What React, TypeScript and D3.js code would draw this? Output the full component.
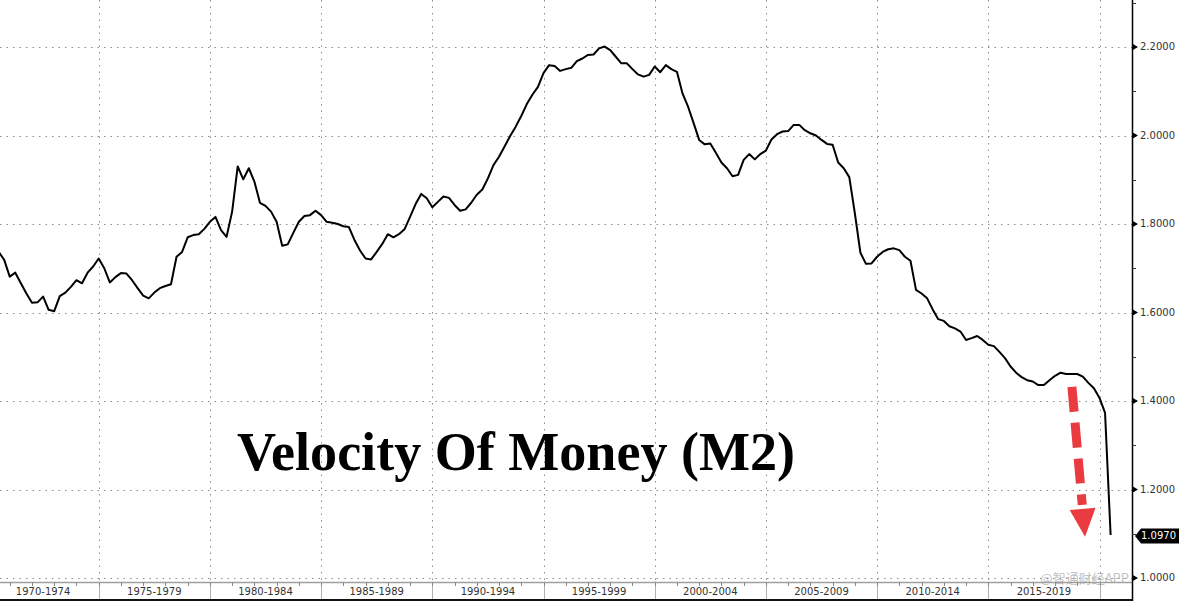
import React, { useEffect, useRef } from "react";
import * as d3 from "d3";

// Quarterly M2 velocity, first point = end of Q2 1970, step = one quarter
const startYear = 1970.5;
const quarterStep = 0.25;
const velocity = [
  1.737, 1.719, 1.681, 1.690, 1.666, 1.643, 1.622, 1.623, 1.636, 1.606,
  1.603, 1.637, 1.645, 1.658, 1.673, 1.666, 1.690, 1.704, 1.722, 1.700,
  1.668, 1.680, 1.689, 1.688, 1.673, 1.655, 1.638, 1.632, 1.645, 1.655,
  1.660, 1.664, 1.726, 1.737, 1.770, 1.775, 1.777, 1.789, 1.805, 1.816,
  1.786, 1.771, 1.828, 1.930, 1.901, 1.926, 1.896, 1.848, 1.841, 1.828,
  1.805, 1.751, 1.754, 1.780, 1.805, 1.818, 1.820, 1.830, 1.820, 1.805,
  1.803, 1.800, 1.795, 1.793, 1.764, 1.740, 1.722, 1.720, 1.737, 1.755,
  1.777, 1.770, 1.777, 1.788, 1.816, 1.845, 1.868, 1.858, 1.838, 1.850,
  1.862, 1.859, 1.843, 1.830, 1.833, 1.848, 1.866, 1.878, 1.903, 1.933,
  1.952, 1.975, 1.999, 2.020, 2.044, 2.071, 2.092, 2.110, 2.141, 2.159,
  2.157, 2.146, 2.150, 2.153, 2.168, 2.174, 2.182, 2.183, 2.197, 2.201,
  2.193, 2.178, 2.163, 2.163, 2.150, 2.138, 2.133, 2.137, 2.156, 2.143,
  2.159, 2.150, 2.144, 2.095, 2.065, 2.028, 1.990, 1.980, 1.982, 1.961,
  1.939, 1.926, 1.908, 1.911, 1.945, 1.958, 1.946, 1.958, 1.966, 1.991,
  2.003, 2.009, 2.010, 2.024, 2.024, 2.012, 2.005, 2.000, 1.990, 1.981,
  1.979, 1.939, 1.926, 1.906, 1.824, 1.735, 1.710, 1.711, 1.726, 1.737,
  1.743, 1.745, 1.741, 1.726, 1.717, 1.651, 1.643, 1.632, 1.607, 1.585,
  1.581, 1.569, 1.564, 1.557, 1.538, 1.542, 1.547, 1.538, 1.527, 1.524,
  1.511, 1.497, 1.478, 1.464, 1.454, 1.447, 1.444, 1.436, 1.436, 1.447,
  1.457, 1.464, 1.461, 1.461, 1.461, 1.455, 1.441, 1.429, 1.407, 1.373,
  1.097,
];

const yTickValues = [1.0, 1.2, 1.4, 1.6, 1.8, 2.0, 2.2];
const yMinorValues = [1.1, 1.3, 1.5, 1.7, 1.9, 2.1, 2.3];
const periodStarts = [1970, 1975, 1980, 1985, 1990, 1995, 2000, 2005, 2010, 2015];
const periodLabels = [
  "1970-1974", "1975-1979", "1980-1984", "1985-1989", "1990-1994",
  "1995-1999", "2000-2004", "2005-2009", "2010-2014", "2015-2019",
];
const gridYears = [1975, 1980, 1985, 1990, 1995, 2000, 2005, 2010, 2015, 2020];
const lastValueLabel = "1.0970";
const titleText = "Velocity Of Money (M2)";
const watermarkText = "@智通财经APP";
// red annotation arrow: [year, value] start and tip
const arrowFrom = [2018.76, 1.432];
const arrowTo = [2019.35, 1.093];

export default function App() {
  const ref = useRef<SVGSVGElement>(null);

  useEffect(() => {
    const W = 1179;
    const H = 601;
    const axisX = 1132;
    const bandTop = 582;
    const bandBottom = 599;
    const svg = d3.select(ref.current);
    svg.selectAll("*").remove();

    const x = d3.scaleLinear().domain([1970, 2020]).range([-12.5, 1099.5]);
    const y = d3.scaleLinear().domain([1.0, 2.2]).range([578, 47]);

    svg.append("rect").attr("width", W).attr("height", H).attr("fill", "#fff");

    const grid = svg.append("g");
    grid.selectAll("line.h").data(yTickValues).join("line")
      .attr("x1", 0).attr("x2", axisX)
      .attr("y1", (d) => Math.round(y(d)) + 0.5).attr("y2", (d) => Math.round(y(d)) + 0.5)
      .attr("stroke", "#8c8c8c").attr("stroke-width", 1).attr("stroke-dasharray", "1.5,5");
    grid.selectAll("line.v").data(gridYears).join("line")
      .attr("x1", (d) => Math.round(x(d)) + 0.5).attr("x2", (d) => Math.round(x(d)) + 0.5)
      .attr("y1", 0).attr("y2", bandTop)
      .attr("stroke", "#8c8c8c").attr("stroke-width", 1).attr("stroke-dasharray", "1.5,5");

    // title
    svg.append("text")
      .attr("x", 237).attr("y", 470)
      .attr("font-family", "'Liberation Serif', 'Times New Roman', serif")
      .attr("font-weight", "bold").attr("font-size", 55)
      .attr("textLength", 558).attr("lengthAdjust", "spacingAndGlyphs")
      .attr("fill", "#000").text(titleText);

    // bottom band
    const band = svg.append("g");
    band.append("line").attr("x1", 0).attr("x2", axisX).attr("y1", bandTop + 0.5).attr("y2", bandTop + 0.5)
      .attr("stroke", "#a0a0a0").attr("stroke-width", 1.5);
    band.selectAll("line.sep").data(gridYears).join("line")
      .attr("x1", (d) => Math.round(x(d)) + 0.5).attr("x2", (d) => Math.round(x(d)) + 0.5)
      .attr("y1", bandTop).attr("y2", bandBottom)
      .attr("stroke", "#b0b0b0").attr("stroke-width", 1);
    band.selectAll("line.yt").data(d3.range(1970, 2021)).join("line")
      .attr("x1", (d) => Math.round(x(d)) + 0.5).attr("x2", (d) => Math.round(x(d)) + 0.5)
      .attr("y1", bandTop).attr("y2", bandTop + 4)
      .attr("stroke", "#888").attr("stroke-width", 1);
    band.selectAll("text").data(periodStarts).join("text")
      .attr("x", (d) => (x(d) + x(d + 5)) / 2)
      .attr("y", 592)
      .attr("text-anchor", "middle").attr("dominant-baseline", "middle")
      .attr("font-family", "'DejaVu Sans', Verdana, sans-serif").attr("font-size", 10)
      .attr("fill", "#333")
      .text((d, i) => periodLabels[i]);
    band.append("line").attr("x1", 0).attr("x2", axisX).attr("y1", 600).attr("y2", 600)
      .attr("stroke", "#111").attr("stroke-width", 2);

    // red arrow annotation
    const ax0 = x(arrowFrom[0]), ay0 = y(arrowFrom[1]);
    const ax1 = x(arrowTo[0]), ay1 = y(arrowTo[1]);
    const dx = ax1 - ax0, dy = ay1 - ay0;
    const len = Math.hypot(dx, dy);
    const ux = dx / len, uy = dy / len;
    const headLen = 28, headHalf = 13;
    const bx = ax1 - ux * headLen, by = ay1 - uy * headLen;
    const red = "#ea3c40";
    svg.append("line")
      .attr("x1", ax0).attr("y1", ay0).attr("x2", bx - ux * 4).attr("y2", by - uy * 4)
      .attr("stroke", red).attr("stroke-width", 9).attr("stroke-dasharray", "25,11");
    svg.append("path")
      .attr("d", `M${bx - uy * headHalf},${by + ux * headHalf} L${ax1},${ay1} L${bx + uy * headHalf},${by - ux * headHalf} Z`)
      .attr("fill", red);

    // data line
    const line = d3.line<number>()
      .x((d, i) => x(startYear + i * quarterStep))
      .y((d) => y(d));
    svg.append("path").datum(velocity)
      .attr("d", line)
      .attr("fill", "none").attr("stroke", "#000").attr("stroke-width", 2)
      .attr("stroke-linejoin", "round");

    // right axis
    const axis = svg.append("g");
    axis.append("rect").attr("x", axisX + 1).attr("y", 0).attr("width", W - axisX).attr("height", H).attr("fill", "#fff");
    axis.append("line").attr("x1", axisX + 0.5).attr("x2", axisX + 0.5).attr("y1", 0).attr("y2", H)
      .attr("stroke", "#000").attr("stroke-width", 1.5);
    axis.selectAll("line.minor").data(yMinorValues).join("line")
      .attr("x1", axisX).attr("x2", axisX + 4)
      .attr("y1", (d) => Math.round(y(d)) + 0.5).attr("y2", (d) => Math.round(y(d)) + 0.5)
      .attr("stroke", "#333").attr("stroke-width", 1);
    axis.selectAll("path.tri").data(yTickValues).join("path")
      .attr("d", (d) => {
        const yy = y(d);
        return `M${axisX},${yy - 3.5} L${axisX + 6},${yy} L${axisX},${yy + 3.5} Z`;
      })
      .attr("fill", "#000");
    axis.selectAll("text.tick").data(yTickValues).join("text")
      .attr("x", axisX + 8).attr("y", (d) => y(d))
      .attr("dominant-baseline", "middle")
      .attr("font-family", "'DejaVu Sans', Verdana, sans-serif").attr("font-size", 10)
      .attr("fill", "#333")
      .text((d) => d3.format(".4f")(d));

    // last value tag
    const lastV = velocity[velocity.length - 1];
    const ly = y(lastV) + 1;
    axis.append("path")
      .attr("d", `M${axisX + 3},${ly} L${axisX + 9},${ly - 7.5} L${W},${ly - 7.5} L${W},${ly + 7.5} L${axisX + 9},${ly + 7.5} Z`)
      .attr("fill", "#000");
    axis.append("text")
      .attr("x", axisX + 9).attr("y", ly)
      .attr("dominant-baseline", "middle")
      .attr("font-family", "'DejaVu Sans', Verdana, sans-serif").attr("font-size", 10)
      .attr("fill", "#fff").text(lastValueLabel);

    // watermark, ending just left of the axis
    svg.append("text")
      .attr("x", axisX - 3).attr("y", 583)
      .attr("text-anchor", "end")
      .attr("font-family", "'Noto Sans CJK SC', sans-serif").attr("font-size", 13)
      .attr("fill", "#9a9a9a").attr("opacity", 0.6)
      .text(watermarkText);
  }, []);

  return (
    <svg
      ref={ref}
      width={1179}
      height={601}
      style={{ position: "absolute", left: 0, top: 0, display: "block" }}
    />
  );
}
